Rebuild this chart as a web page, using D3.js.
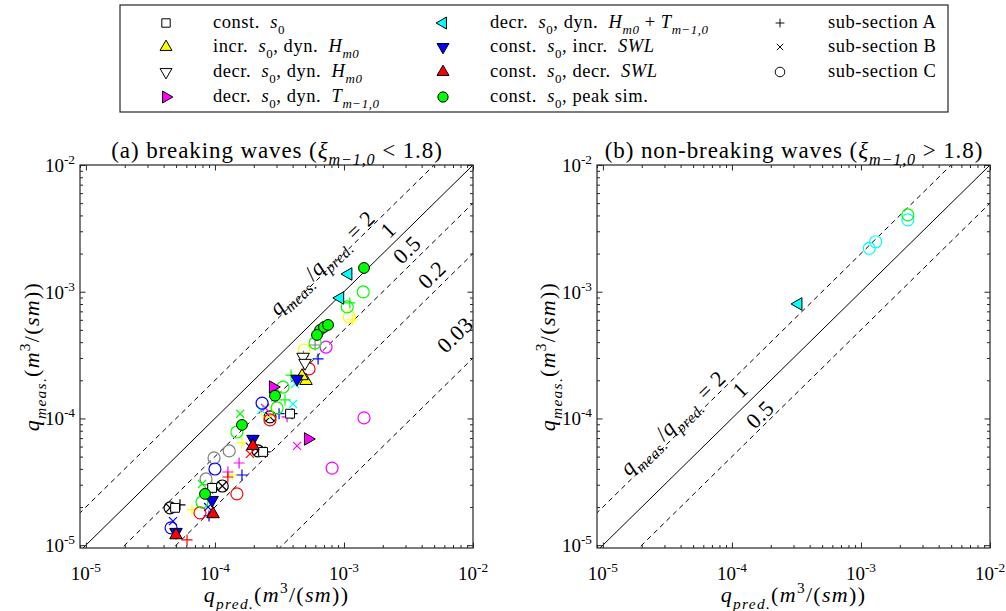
<!DOCTYPE html>
<html lang="en">
<head>
<meta charset="UTF-8">
<title>q_meas vs q_pred</title>
<script src="https://cdn.jsdelivr.net/npm/d3@7/dist/d3.min.js"></script>
<style>
  body { margin: 0; background: #fff; }
  svg { display: block; }
  text { white-space: pre; font-family: "Liberation Serif", "DejaVu Serif", serif; }
</style>
</head>
<body>
<svg id="chart" width="1006" height="611" font-family="Liberation Serif, serif"></svg>
<script>
// rows: [marker, q_pred, q_meas]  'S' = series symbol, 'A' = +, 'B' = x, 'C' = o
// (a) breaking waves
const constS0 = [
  ['A', 3.96e-4, 1.09e-4], ['A', 2.45e-4, 5.44e-5], ['A', 9.6e-5, 2.83e-5], ['A', 5.36e-5, 2.08e-5],
  ['B', 2.67e-4, 1.03e-4], ['B', 2.16e-4, 5.54e-5], ['B', 1.14e-4, 2.93e-5], ['B', 4.49e-5, 1.97e-5],
  ['C', 2.67e-4, 1.03e-4], ['C', 2.16e-4, 5.54e-5], ['C', 1.14e-4, 2.93e-5], ['C', 4.49e-5, 1.97e-5],
  ['S', 3.82e-4, 1.09e-4], ['S', 2.36e-4, 5.44e-5], ['S', 9.51e-5, 2.83e-5], ['S', 4.91e-5, 1.97e-5]
];
const incrH = [
  ['A', 1.16e-3, 5.99e-4], ['A', 1.62e-4, 6.41e-5], ['A', 6.64e-5, 1.90e-5], ['A', 1.36e-4, 3.58e-5],
  ['C', 1.10e-3, 6.32e-4], ['C', 4.91e-4, 3.47e-4], ['C', 2.52e-4, 1.13e-4],
  ['S', 5.08e-4, 1.98e-4], ['S', 4.73e-4, 2.16e-4]
];
const decrH = [
  ['A', 5.97e-4, 3.80e-4], ['A', 4.85e-4, 3.10e-4],
  ['C', 1.29e-4, 5.54e-5], ['C', 9.84e-5, 4.88e-5], ['C', 8.53e-5, 3.33e-5],
  ['S', 4.82e-4, 3.06e-4], ['S', 4.99e-4, 2.74e-4]
];
const decrT = [
  ['A', 1.54e-4, 4.45e-5], ['A', 1.26e-4, 3.78e-5], ['A', 3.62e-4, 1.03e-4],
  ['B', 4.33e-4, 6.07e-5], ['B', 2.45e-4, 1.21e-4],
  ['C', 1.43e-3, 1.01e-4], ['C', 8.09e-4, 4.06e-5], ['C', 7.26e-4, 3.66e-4],
  ['S', 5.27e-4, 6.89e-5], ['S', 2.82e-4, 1.77e-4]
];
const decrHT = [
  ['B', 4.18e-4, 1.87e-4], ['B', 4.03e-4, 1.30e-4], ['B', 2.28e-4, 1.17e-4],
  ['S', 1.08e-3, 1.38e-3], ['S', 9.33e-4, 8.93e-4]
];
const incrSWL = [
  ['A', 6.30e-4, 2.95e-4], ['A', 3.14e-4, 1.09e-4], ['A', 1.62e-4, 3.58e-5], ['A', 9.00e-5, 1.70e-5],
  ['B', 1.87e-4, 5.96e-5], ['B', 8.85e-5, 2.00e-5], ['B', 4.73e-5, 1.55e-5],
  ['C', 2.32e-4, 1.32e-4], ['C', 1.00e-4, 3.99e-5], ['C', 4.57e-5, 1.37e-5],
  ['S', 4.33e-4, 2.05e-4], ['S', 1.97e-4, 6.89e-5], ['S', 9.51e-5, 2.27e-5], ['S', 4.99e-5, 1.27e-5]
];
const decrSWL = [
  ['A', 6.08e-5, 1.10e-5], ['A', 1.26e-4, 3.45e-5],
  ['B', 1.87e-4, 5.25e-5],
  ['C', 5.36e-4, 2.46e-4], ['C', 2.67e-4, 9.73e-5], ['C', 1.48e-4, 2.54e-5], ['C', 7.66e-5, 1.80e-5],
  ['S', 1.97e-4, 6.07e-5], ['S', 9.67e-5, 1.76e-5], ['S', 4.99e-5, 1.20e-5]
];
const peakSim = [
  ['A', 1.11e-3, 8.16e-4], ['A', 3.89e-4, 2.20e-4], ['A', 3.49e-4, 1.40e-4],
  ['B', 1.57e-4, 1.09e-4], ['B', 7.94e-5, 3.04e-5],
  ['C', 1.41e-3, 9.96e-4], ['C', 1.06e-3, 7.59e-4], ['C', 5.97e-4, 3.94e-4], ['C', 3.37e-4, 1.77e-4],
  ['C', 3.03e-4, 1.21e-4], ['C', 1.48e-4, 7.82e-5], ['C', 7.94e-5, 2.19e-5],
  ['S', 1.43e-3, 1.54e-3], ['S', 6.53e-4, 4.99e-4], ['S', 7.01e-4, 5.27e-4], ['S', 7.53e-4, 5.47e-4],
  ['S', 6.18e-4, 4.56e-4], ['S', 2.92e-4, 1.51e-4], ['S', 1.62e-4, 8.89e-5], ['S', 8.38e-5, 2.54e-5]
];
// (b) non-breaking waves
const nbDecrHT = [
  ['C', 1.16e-3, 2.20e-3], ['C', 1.30e-3, 2.48e-3], ['C', 2.31e-3, 3.69e-3],
  ['S', 3.27e-4, 8.01e-4]
];
const nbPeakSim = [['C', 2.31e-3, 4.04e-3]];

const ratiosA = [2, 1, 0.5, 0.2, 0.03];
const ratiosB = [2, 1, 0.5];
const ratioTextA = ['= 2', '1', '0.5', '0.2', '0.03'];
const ratioTextB = ['= 2', '1', '0.5'];
const ratioLabelAtA = [[6.76e-4, 1.69e-3], [2.20e-3, 3.07e-3], [3.08e-3, 2.14e-3], [4.82e-3, 1.36e-3], [7.26e-3, 4.56e-4]];
const ratioLabelAtB = [[3.49e-5, 9.21e-5], [1.16e-4, 1.68e-4], [1.65e-4, 1.07e-4]];
const decades = [1e-5, 1e-4, 1e-3, 1e-2];

// ---- styles
const styles = {
  constS0: { shape: 'square', fill: '#ffffff', color: '#000000' },
  incrH:   { shape: 'up',     fill: '#ffff00', color: '#ffff00' },
  decrH:   { shape: 'down',   fill: '#ffffff', color: '#808080' },
  decrT:   { shape: 'right',  fill: '#ff00ff', color: '#ff00ff' },
  decrHT:  { shape: 'left',   fill: '#00ffff', color: '#00ffff' },
  incrSWL: { shape: 'down',   fill: '#0000ff', color: '#0000ff' },
  decrSWL: { shape: 'up',     fill: '#ff0000', color: '#ff0000' },
  peakSim: { shape: 'circle', fill: '#00ff00', color: '#00ff00' }
};

const svg = d3.select('#chart');

// little LaTeX-ish text: [text, kind]  r roman, i italic, b sub, bi italic sub, p sup
function tex(sel, parts, size) {
  let shift = 0;
  for (const [t, k] of parts) {
    const isSub = k === 'b' || k === 'bi';
    const target = isSub ? size * 0.3 : k === 'p' ? -size * 0.42 : 0;
    sel.append('tspan')
      .attr('dy', (target - shift).toFixed(2))
      .attr('font-size', (isSub || k === 'p') ? size * 0.7 : size)
      .attr('font-style', (k === 'i' || k === 'bi') ? 'italic' : 'normal')
      .text(t);
    shift = target;
  }
  return sel;
}

const rot = { up: 0, down: 180, right: 90, left: -90 };
function seriesSymbol(g, shape, fill, px, py, k) {
  k = k || 1;
  let d;
  if (shape === 'square') d = d3.symbol(d3.symbolSquare, 78 * k)();
  else if (shape === 'circle') d = d3.symbol(d3.symbolCircle, 92 * k)();
  else d = d3.symbol(d3.symbolTriangle, 68 * k)();
  g.append('path')
    .attr('d', d)
    .attr('transform', `translate(${px},${py}) rotate(${rot[shape] || 0})`)
    .attr('fill', fill)
    .attr('stroke', '#000')
    .attr('stroke-width', 1);
}
function subSymbol(g, kind, color, px, py) {
  if (kind === 'C') {
    g.append('circle').attr('cx', px).attr('cy', py).attr('r', 6)
      .attr('fill', 'none').attr('stroke', color).attr('stroke-width', 1.2);
  } else {
    const d = kind === 'A' ? 'M-5.5,0H5.5M0,-5.5V5.5' : 'M-4,-4L4,4M-4,4L4,-4';
    g.append('path').attr('d', d).attr('transform', `translate(${px},${py})`)
      .attr('fill', 'none').attr('stroke', color).attr('stroke-width', 1.2);
  }
}

const qLabel = sub => [['q', 'i'], [sub, 'bi'], ['(', 'r'], ['m', 'i'], ['3', 'p'], ['/(', 'r'], ['sm', 'i'], ['))', 'r']];

const panels = [
  {
    id: 'a', x0: 80, x1: 473, cx: 277, ylabX: 39,
    title: [['(a) breaking waves (', 'r'], ['ξ', 'i'], ['m−1,0', 'bi'], [' < 1.8)', 'r']],
    groups: [['constS0', constS0], ['incrH', incrH], ['decrH', decrH], ['decrT', decrT],
             ['decrHT', decrHT], ['incrSWL', incrSWL], ['decrSWL', decrSWL], ['peakSim', peakSim]],
    ratios: ratiosA, ratioText: ratioTextA, labelAt: ratioLabelAtA
  },
  {
    id: 'b', x0: 597, x1: 990, cx: 794, ylabX: 555,
    title: [['(b) non-breaking waves (', 'r'], ['ξ', 'i'], ['m−1,0', 'bi'], [' > 1.8)', 'r']],
    groups: [['decrHT', nbDecrHT], ['peakSim', nbPeakSim]],
    ratios: ratiosB, ratioText: ratioTextB, labelAt: ratioLabelAtB
  }
];

const yTop = 165, yBot = 548;

panels.forEach(p => {
  const x = d3.scaleLog().domain([9e-6, 1e-2]).range([p.x0, p.x1]);
  const y = d3.scaleLog().domain([9.5e-6, 1e-2]).range([yBot, yTop]);
  const g = svg.append('g');

  g.append('clipPath').attr('id', 'clip-' + p.id)
    .append('rect').attr('x', p.x0).attr('y', yTop)
    .attr('width', p.x1 - p.x0).attr('height', yBot - yTop);

  // ratio lines
  const lines = g.append('g').attr('clip-path', `url(#clip-${p.id})`);
  const xs = [1e-6, 1e-1];
  p.ratios.forEach(r => {
    lines.append('path')
      .attr('d', d3.line().x(v => x(v)).y(v => y(v * r))(xs))
      .attr('fill', 'none').attr('stroke', '#000')
      .attr('stroke-width', 1)
      .attr('stroke-dasharray', r === 1 ? null : '5,4');
  });

  // ratio labels
  const ang = Math.atan2(y(1e-3) - y(1e-4), x(1e-3) - x(1e-4)) * 180 / Math.PI;
  p.ratioText.forEach((t, i) => {
    const [lx, ly] = p.labelAt[i];
    const fs = 22;
    const txt = g.append('text')
      .attr('transform', `translate(${x(lx)},${y(ly)}) rotate(${ang})`)
      .attr('text-anchor', 'middle')
      .attr('y', fs * 0.33)
      .attr('font-size', fs)
      .attr('letter-spacing', 0.5);
    if (i === 0) {
      tex(txt, [['q', 'i'], ['meas.', 'bi'], ['/', 'r'], ['q', 'i'], ['pred.', 'bi'], [' = 2', 'r']], fs);
    } else {
      tex(txt, [[t, 'r']], fs);
    }
  });

  // markers: sub-sections first, then series symbols
  const mk = g.append('g');
  p.groups.forEach(([key, rows]) => {
    const st = styles[key];
    rows.filter(d => d[0] !== 'S').forEach(d => subSymbol(mk, d[0], st.color, x(d[1]), y(d[2])));
  });
  p.groups.forEach(([key, rows]) => {
    const st = styles[key];
    rows.filter(d => d[0] === 'S').forEach(d => seriesSymbol(mk, st.shape, st.fill, x(d[1]), y(d[2])));
  });

  // ticks (inward, mirrored)
  const xt = x.ticks(), yt = y.ticks();
  const isMajor = v => Math.abs(Math.log10(v) - Math.round(Math.log10(v))) < 1e-6;
  const tickStyle = s => s.call(a => a.select('.domain').remove())
    .selectAll('line').attr('stroke', '#262626');
  [[d3.axisBottom, `translate(0,${yBot})`, x, xt], [d3.axisTop, `translate(0,${yTop})`, x, xt],
   [d3.axisLeft, `translate(${p.x0},0)`, y, yt], [d3.axisRight, `translate(${p.x1},0)`, y, yt]]
    .forEach(([ax, tr, sc, tv]) => {
      g.append('g').attr('transform', tr)
        .call(ax(sc).tickValues(tv.filter(v => !isMajor(v))).tickSize(-3).tickFormat(''))
        .call(tickStyle);
      g.append('g').attr('transform', tr)
        .call(ax(sc).tickValues(decades).tickSize(-5.5).tickFormat(''))
        .call(tickStyle);
    });

  g.append('rect')
    .attr('x', p.x0).attr('y', yTop)
    .attr('width', p.x1 - p.x0).attr('height', yBot - yTop)
    .attr('fill', 'none').attr('stroke', '#262626').attr('stroke-width', 1.2);

  // tick labels
  decades.forEach(v => {
    const e = Math.round(Math.log10(v));
    tex(g.append('text').attr('x', x(v)).attr('y', yBot + 32)
      .attr('text-anchor', 'middle').attr('font-size', 19), [['10', 'r'], [String(e), 'p']], 19);
    tex(g.append('text').attr('x', p.x0 - 5).attr('y', y(v) + 7)
      .attr('text-anchor', 'end').attr('font-size', 19), [['10', 'r'], [String(e), 'p']], 19);
  });

  // axis titles
  tex(g.append('text').attr('x', (p.x0 + p.x1) / 2).attr('y', 602)
    .attr('text-anchor', 'middle').attr('font-size', 22).attr('letter-spacing', 1.3), qLabel('pred.'), 22);
  tex(g.append('text')
    .attr('transform', `translate(${p.ylabX},${(yTop + yBot) / 2}) rotate(-90)`)
    .attr('text-anchor', 'middle').attr('font-size', 22).attr('letter-spacing', 1.3), qLabel('meas.'), 22);

  // title
  tex(g.append('text').attr('x', p.cx).attr('y', 158)
    .attr('text-anchor', 'middle').attr('font-size', 23).attr('letter-spacing', 0.9), p.title, 23);
});

// ---- legend
const legendEntries = [
  ['constS0', [['const.  ', 'r'], ['s', 'i'], ['0', 'b']]],
  ['incrH',   [['incr.  ', 'r'], ['s', 'i'], ['0', 'b'], [', dyn.  ', 'r'], ['H', 'i'], ['m0', 'bi']]],
  ['decrH',   [['decr.  ', 'r'], ['s', 'i'], ['0', 'b'], [', dyn.  ', 'r'], ['H', 'i'], ['m0', 'bi']]],
  ['decrT',   [['decr.  ', 'r'], ['s', 'i'], ['0', 'b'], [', dyn.  ', 'r'], ['T', 'i'], ['m−1,0', 'bi']]],
  ['decrHT',  [['decr.  ', 'r'], ['s', 'i'], ['0', 'b'], [', dyn.  ', 'r'], ['H', 'i'], ['m0', 'bi'], [' + ', 'r'], ['T', 'i'], ['m−1,0', 'bi']]],
  ['incrSWL', [['const.  ', 'r'], ['s', 'i'], ['0', 'b'], [', incr.  ', 'r'], ['SWL', 'i']]],
  ['decrSWL', [['const.  ', 'r'], ['s', 'i'], ['0', 'b'], [', decr.  ', 'r'], ['SWL', 'i']]],
  ['peakSim', [['const.  ', 'r'], ['s', 'i'], ['0', 'b'], [', peak sim.', 'r']]],
  ['A', [['sub-section A', 'r']]],
  ['B', [['sub-section B', 'r']]],
  ['C', [['sub-section C', 'r']]]
];
const leg = svg.append('g');
leg.append('rect').attr('x', 120).attr('y', 5).attr('width', 828).attr('height', 107)
  .attr('fill', '#fff').attr('stroke', '#262626').attr('stroke-width', 1.2);
const colMarkX = [166, 443, 780], colTextX = [213, 490, 828], rowY = [23, 47, 72, 97];
legendEntries.forEach(([key, parts], i) => {
  const col = Math.floor(i / 4), row = i % 4;
  const mx = colMarkX[col], my = rowY[row];
  if (styles[key]) {
    const st = styles[key];
    seriesSymbol(leg, st.shape, st.fill, mx, my, 0.9);
  } else {
    const s = leg.append('g').attr('transform', `translate(${mx},${my}) scale(0.8)`);
    subSymbol(s, key, '#000', 0, 0);
  }
  tex(leg.append('text').attr('x', colTextX[col]).attr('y', my + 5)
    .attr('font-size', 18.5).attr('letter-spacing', 0.55), parts, 18.5);
});
</script>
</body>
</html>
